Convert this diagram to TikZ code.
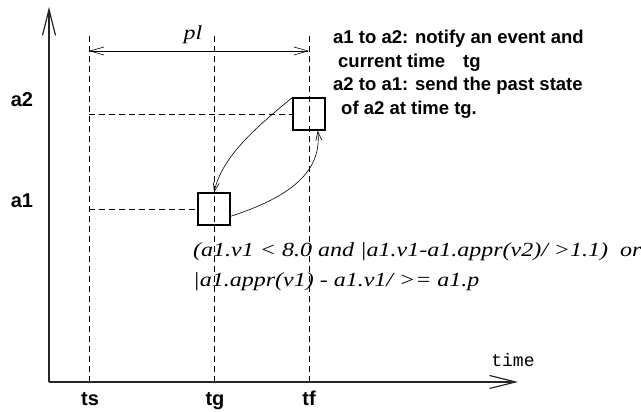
\documentclass[tikz,border=0pt]{standalone}
\usepackage{fontspec}
\setmainfont{Liberation Serif}
\setsansfont{Liberation Sans}
\setmonofont{Liberation Mono}
\newfontfamily\wideserif[FakeStretch=1.2]{Liberation Serif}
\usepackage{tikz}
\usetikzlibrary{arrows.meta,positioning,calc}
\tikzset{
  axis/.style={line width=1.2pt, draw=black!85, -{Straight Barb[length=26pt, width=13pt, line width=1.2pt]}},
  grid/.style={dash pattern=on 6pt off 4pt, line width=0.6pt},
  ebox/.style={draw, line width=1.1pt, minimum size=32pt, inner sep=0pt},
  lbl/.style={font=\sffamily\bfseries\fontsize{20}{24}\selectfont, inner sep=0pt, anchor=base},
  msg/.style={-{Straight Barb[length=9pt, width=6pt]}, line width=0.6pt},
  span/.style={{Straight Barb[length=14pt, width=8pt]}-{Straight Barb[length=14pt, width=8pt]}, line width=0.6pt},
}

\begin{document}
\begin{tikzpicture}[x=1pt, y=1pt]
  \useasboundingbox (0,0) rectangle (641,412);
  \coordinate (o)    at (49,30);
  \coordinate (ytop) at (49,405);
  \coordinate (xend) at (518,30);
  \coordinate (tsb) at (89,30);   \coordinate (tst) at (89,377);
  \coordinate (tgb) at (214,30);  \coordinate (tgt) at (214,377);
  \coordinate (tfb) at (309,30);  \coordinate (tft) at (309,377);
  \coordinate (pls) at (89,361);  \coordinate (plf) at (309,361);
  \coordinate (y2) at (89,298);   \coordinate (y1) at (89,203);
  \node[ebox] (a2box) at (309,298) {};
  \node[ebox] (a1box) at (214,203) {};
  \draw[grid] (tsb)--(tst);  \draw[grid] (tgb)--(tgt);  \draw[grid] (tfb)--(tft);
  \draw[grid] (y2)--(a2box.west);  \draw[grid] (y1)--(a1box.west);
  \draw[axis] (o)--(ytop);
  \draw[axis] (o)--(xend);
  \draw[span] (pls)--(plf);
  \node[inner sep=0pt, anchor=base, font=\wideserif\itshape\fontsize{20}{24}\selectfont] (pl) at (193,372) {pl};
  \node[lbl] (a2) at (22,305) {a2};
  \node[lbl] (a1) at (22,204) {a1};
  \node[lbl] (ts) at (90,6) {ts};
  \node[lbl] (tg) at (215,6) {tg};
  \node[lbl] (tf) at (309,6) {tf};
  \node[inner sep=0pt, anchor=base, font=\ttfamily\fontsize{18}{20}\selectfont] (time) at (513,45) {time};
  \node[inner sep=0pt, anchor=north west, align=left, font=\sffamily\bfseries\fontsize{18.5}{23.5}\selectfont] (note) at (333,382)
    {a1 to a2: notify an event and\\
     \hspace{5pt}current time\hspace{18pt}tg\\
     a2 to a1: send the past state\\
     \hspace{8pt}of a2 at time tg.};
  \node[inner sep=0pt, anchor=north west, align=left, font=\wideserif\itshape\fontsize{20}{30}\selectfont] (cond) at (193,170)
    {(a1.v1 < 8.0 and |a1.v1-a1.appr(v2)/ >1.1)\ \ or\\
     |a1.appr(v1) - a1.v1/ >= a1.p};
  \draw[msg] (a2box.north west) .. controls (255,284) and (222,255) .. (a1box.north);
  \draw[msg] (a1box.-24) .. controls (290,215) and (322,240) .. (a2box.-62);
\end{tikzpicture}
\end{document}
